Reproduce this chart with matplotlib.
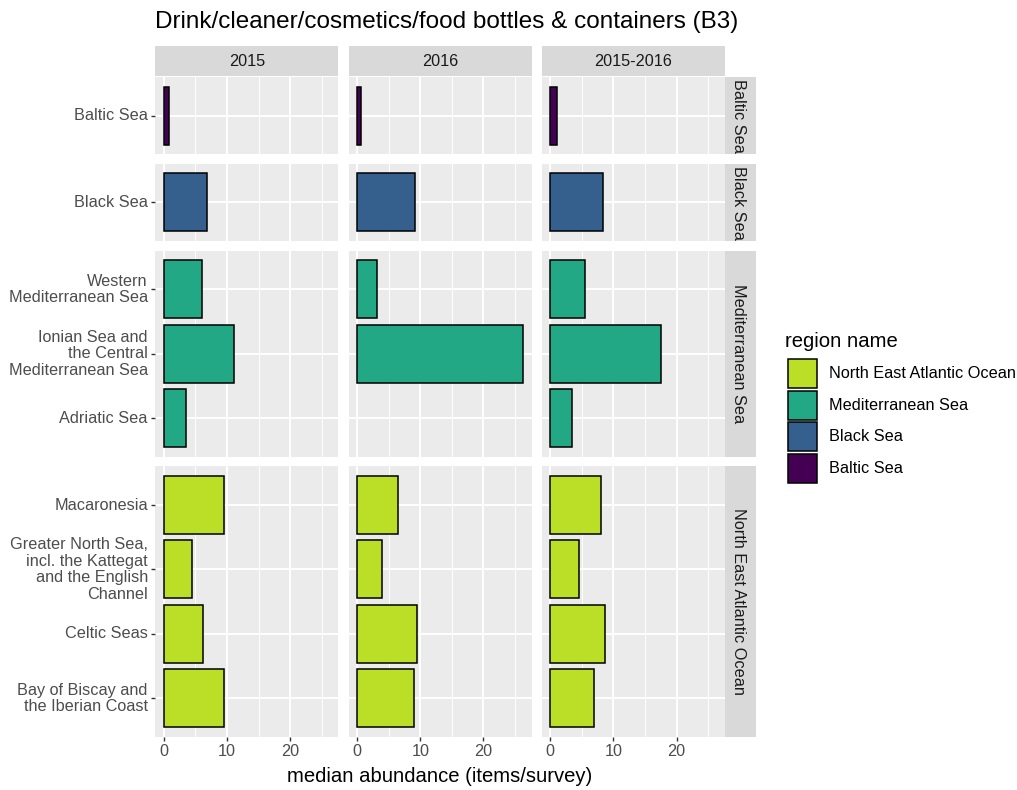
import numpy as np
import matplotlib
matplotlib.use("Agg")
import matplotlib.pyplot as plt
from matplotlib.patches import Rectangle

# ---------------- data ----------------
title = "Drink/cleaner/cosmetics/food bottles & containers (B3)"
x_label = "median abundance (items/survey)"
legend_title = "region name"
years = ["2015", "2016", "2015-2016"]
regions = ["Baltic Sea", "Black Sea", "Mediterranean Sea", "North East Atlantic Ocean"]
region_colors = ["#440154", "#355F8D", "#22A884", "#BBDF27"]

areas = [
    "Baltic Sea",
    "Black Sea",
    "Western\nMediterranean Sea",
    "Ionian Sea and\nthe Central\nMediterranean Sea",
    "Adriatic Sea",
    "Macaronesia",
    "Greater North Sea,\nincl. the Kattegat\nand the English\nChannel",
    "Celtic Seas",
    "Bay of Biscay and\nthe Iberian Coast",
]
area_region = [
    "Baltic Sea",
    "Black Sea",
    "Mediterranean Sea",
    "Mediterranean Sea",
    "Mediterranean Sea",
    "North East Atlantic Ocean",
    "North East Atlantic Ocean",
    "North East Atlantic Ocean",
    "North East Atlantic Ocean",
]
values_2015 = [0.9, 6.9, 6.0, 11.2, 3.6, 9.5, 4.5, 6.3, 9.5]
values_2016 = [0.6, 9.1, 3.2, 26.3, np.nan, 6.4, 4.0, 9.4, 9.0]
values_2015_2016 = [1.0, 8.4, 5.5, 17.5, 3.5, 8.0, 4.5, 8.7, 7.0]
values_by_year = [values_2015, values_2016, values_2015_2016]

# ---------------- style ----------------
FONT = ["Liberation Sans", "DejaVu Sans"]
plt.rcParams["font.family"] = FONT
W, H = 1017, 790
fig = plt.figure(figsize=(W / 100, H / 100), dpi=100)
fig.patch.set_facecolor("white")

SMALL = 11.7
MID = 14.6
BIG = 17.5


def ax_at(x0, y0, x1, y1):
    return fig.add_axes([x0 / W, 1 - y1 / H, (x1 - x0) / W, (y1 - y0) / H])


col_x = [(155.3, 338.3), (348.8, 531.6), (541.9, 724.6)]
top, bottom, gap = 77.0, 737.0, 9.5
counts = [area_region.count(r) for r in regions]
unit = (bottom - top - gap * (len(regions) - 1)) / sum(c + 0.2 for c in counts)
row_y = []
y = top
for c in counts:
    h = (c + 0.2) * unit
    row_y.append((y, y + h))
    y += h + gap

all_vals = np.array(values_by_year, dtype=float)
vmax = np.nanmax(all_vals)
xlim = (-0.05 * vmax, 1.05 * vmax)

for r, region in enumerate(regions):
    idx = [i for i, a in enumerate(area_region) if a == region]
    n = len(idx)
    ys = np.arange(n)
    color = region_colors[r]
    for c, year in enumerate(years):
        x0, x1 = col_x[c]
        y0, y1 = row_y[r]
        ax = ax_at(x0, y0, x1, y1)
        ax.set_facecolor("#EBEBEB")
        vals = np.array([values_by_year[c][i] for i in idx], dtype=float)
        ok = ~np.isnan(vals)
        ax.barh(ys[ok], vals[ok], height=0.9, color=color, edgecolor="black",
                linewidth=1.1, zorder=3)
        ax.set_xlim(*xlim)
        ax.set_ylim(n - 1 + 0.6, -0.6)
        ax.set_xticks([0, 10, 20])
        ax.set_xticks([5, 15, 25], minor=True)
        ax.set_yticks(ys)
        ax.grid(which="major", color="white", linewidth=1.4, zorder=0)
        ax.grid(which="minor", axis="x", color="white", linewidth=0.7, zorder=0)
        ax.set_axisbelow(True)
        for s in ax.spines.values():
            s.set_visible(False)
        ax.tick_params(which="minor", length=0)
        ax.tick_params(which="major", color="#333333", width=1.0, length=3.2,
                       labelcolor="#4D4D4D", labelsize=SMALL, pad=2.2)
        if c == 0:
            ax.set_yticklabels([areas[i] for i in idx])
            for lbl in ax.get_yticklabels():
                lbl.set_multialignment("right")
                lbl.set_linespacing(1.13)
                lbl.set_verticalalignment("center")
        else:
            ax.tick_params(axis="y", left=False, labelleft=False)
        if r == len(regions) - 1:
            ax.set_xticklabels(["0", "10", "20"])
        else:
            ax.tick_params(axis="x", bottom=False, labelbottom=False)

    # right strip
    y0, y1 = row_y[r]
    sax = ax_at(724.6, y0, 755.5, y1)
    sax.set_facecolor("#D9D9D9")
    sax.set_xticks([]); sax.set_yticks([])
    for s in sax.spines.values():
        s.set_visible(False)
    sax.text(0.45, 0.5, region, rotation=-90, ha="center", va="center",
             fontsize=SMALL, color="#1A1A1A", transform=sax.transAxes)

# top strips
for c, year in enumerate(years):
    x0, x1 = col_x[c]
    sax = ax_at(x0, 46.0, x1, 76.0)
    sax.set_facecolor("#D9D9D9")
    sax.set_xticks([]); sax.set_yticks([])
    for s in sax.spines.values():
        s.set_visible(False)
    sax.text(0.5, 0.5, year, ha="center", va="center", fontsize=SMALL,
             color="#1A1A1A", transform=sax.transAxes)

# titles
fig.text(155 / W, 1 - 22 / H, title, ha="left", va="center", fontsize=BIG, color="black")
fig.text(440 / W, 1 - 776 / H, x_label, ha="center", va="center", fontsize=MID, color="black")

# legend (reverse order)
fig.text(785 / W, 1 - 341 / H, legend_title, ha="left", va="center", fontsize=MID, color="black")
for k, (name, col) in enumerate(zip(regions[::-1], region_colors[::-1])):
    ky = 359 + 31.7 * k
    fig.add_artist(Rectangle((788 / W, 1 - (ky + 29) / H), 29 / W, 29 / H,
                             transform=fig.transFigure, facecolor=col,
                             edgecolor="black", linewidth=1.1))
    fig.text(829 / W, 1 - (ky + 14.5) / H, name, ha="left", va="center",
             fontsize=SMALL, color="black")

fig.savefig("out.png", dpi=100)
